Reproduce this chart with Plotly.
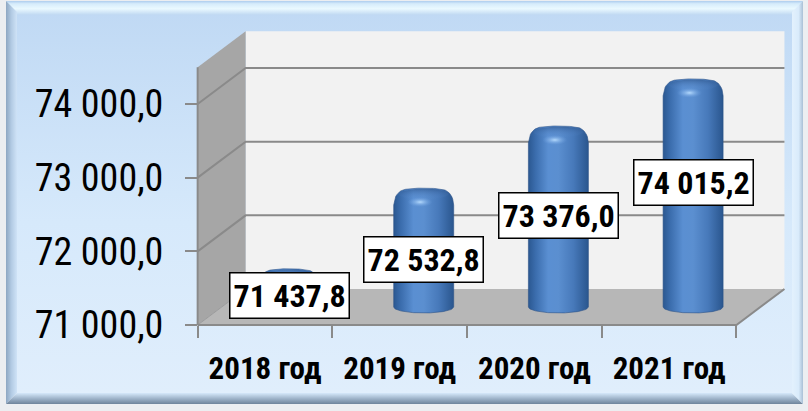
import numpy as np
import plotly.graph_objects as go

# ---- data -------------------------------------------------------------
categories = ["2018 год", "2019 год", "2020 год", "2021 год"]
values = [71437.8, 72532.8, 73376.0, 74015.2]
value_labels = ["71 437,8", "72 532,8", "73 376,0", "74 015,2"]
y_ticks = [71000, 72000, 73000, 74000]
y_tick_labels = ["71 000,0", "72 000,0", "73 000,0", "74 000,0"]

# ---- page / axis geometry ---------------------------------------------
W, H = 808, 411
X_RANGE = [-1.9673, 4.0312]          # category index units
Y_RANGE = [69832.6, 75411.6]         # value units
PX_X = W / (X_RANGE[1] - X_RANGE[0])  # pixels per category unit
PX_Y = H / (Y_RANGE[1] - Y_RANGE[0])  # pixels per value unit
BASE = 71000.0
WALL_TOP = 74500.0
DX = 48 / PX_X                       # depth offset of the 3-D box
DV = 36 / PX_Y

NARROW = "Liberation Sans Narrow, Arial Narrow, Roboto Condensed, Liberation Sans, sans-serif"

fig = go.Figure()


def page_poly(xs, ys, grad_type, stops):
    """Filled polygon in page pixels (y measured from the top)."""
    fig.add_trace(go.Scatter(
        x=list(xs) + [xs[0]], y=[H - v for v in ys] + [H - ys[0]],
        mode="lines", line=dict(width=0), fill="toself",
        fillgradient=dict(type=grad_type, colorscale=stops),
        hoverinfo="skip", xaxis="x", yaxis="y"))


# ---- outer frame with bevel -------------------------------------------
L, T, R, B, BV = 6, 1, 803, 404, 11
page_poly([L + BV, R - BV, R - BV, L + BV], [T + BV, T + BV, B - BV, B - BV], "vertical",
          [[0, "#e0eefc"], [0.45, "#d6e9fb"], [1, "#c0d9f4"]])
page_poly([L, R, R - BV, L + BV], [T, T, T + BV + 3, T + BV + 3], "vertical",
          [[0, "#bfd8f2"], [0.45, "#eaf9ff"], [0.8, "#d6ecfb"], [1, "#aecdee"]])
page_poly([L, L + BV, L + BV, L], [T, T + BV, B - BV, B], "horizontal",
          [[0, "#8ea7c2"], [0.5, "#b3cbe4"], [1, "#cfe3f7"]])
page_poly([L, L + BV, R - BV, R], [B, B - BV, B - BV, B], "vertical",
          [[0, "#6f849b"], [0.5, "#9fb4ca"], [1, "#d5e8fa"]])
page_poly([R, R - BV, R - BV, R], [T, T + BV, B - BV, B], "horizontal",
          [[0, "#e3f1fd"], [0.6, "#d9ebfb"], [1, "#aac0d6"]])


def data_trace(xs, ys, **kw):
    fig.add_trace(go.Scatter(x=xs, y=ys, hoverinfo="skip",
                             xaxis="x2", yaxis="y2", **kw))


# ---- 3-D box: walls, floor and gridlines -------------------------------
x_left, x_right = -0.5, len(categories) - 0.5
data_trace([x_left + DX, x_right + DX, x_right + DX, x_left + DX, x_left + DX],
           [BASE + DV, BASE + DV, WALL_TOP + DV, WALL_TOP + DV, BASE + DV],
           mode="lines", line=dict(width=0), fill="toself", fillcolor="#f2f2f2")
data_trace([x_left, x_left + DX, x_left + DX, x_left, x_left],
           [BASE, BASE + DV, WALL_TOP + DV, WALL_TOP, BASE],
           mode="lines", line=dict(width=0), fill="toself", fillcolor="#a6a6a6")
data_trace([x_left, x_right, x_right + DX, x_left + DX, x_left],
           [BASE, BASE, BASE + DV, BASE + DV, BASE],
           mode="lines", line=dict(width=0), fill="toself", fillcolor="#b7b7b7")

grid_color = "#8a8a8a"
for v in y_ticks[1:]:
    data_trace([x_left, x_left + DX, x_right + DX], [v, v + DV, v + DV],
               mode="lines", line=dict(color=grid_color, width=2))
data_trace([x_left, x_left + DX], [BASE, BASE + DV],
           mode="lines", line=dict(color="#9a9a9a", width=1))
data_trace([x_left, x_left, None, x_left, x_right, x_right + DX],
           [WALL_TOP, BASE, None, BASE, BASE, BASE + DV],
           mode="lines", line=dict(color=grid_color, width=2))

# ---- cylinders ---------------------------------------------------------
RX = 30 / PX_X          # cylinder radius (horizontal)
RY = 6 / PX_Y           # ellipse half-height
ROUND = 11              # rounding of the top edge, pixels
u = np.linspace(-1, 1, 61)
body_scale = [[0, "#2b5891"], [0.12, "#3b6dad"], [0.33, "#5a8fd2"], [0.5, "#5b8fd0"],
              [0.75, "#4779ba"], [1, "#2a568e"]]

for i, v in enumerate(values):
    cx = i + DX / 2
    vb = BASE + DV / 2
    vt = v + DV / 2
    xs = cx + RX * u
    half = np.sqrt(1 - u ** 2)
    d = 30 * (1 - np.abs(u))
    drop = np.where(d < ROUND, ROUND - np.sqrt(np.maximum(ROUND ** 2 - (ROUND - d) ** 2, 0)), 0)
    top = vt + RY * half - drop / PX_Y
    bottom = vb - RY * half
    px = np.concatenate([xs, xs[::-1], xs[:1]])
    py = np.concatenate([top, bottom[::-1], top[:1]])
    data_trace(px, py, mode="lines", line=dict(width=0.6, color="#2b5288"), fill="toself",
               fillgradient=dict(type="horizontal", colorscale=body_scale))
    # shaded top face
    t = np.linspace(0, 2 * np.pi, 60)
    data_trace(cx + 0.82 * RX * np.cos(t), vt + 0.9 * RY * np.sin(t), mode="lines",
               line=dict(width=0), fill="toself",
               fillgradient=dict(type="vertical",
                                 colorscale=[[0, "rgba(95,145,212,0)"], [1, "rgba(40,78,130,0.55)"]]))
    # specular highlight on the front rim
    data_trace(cx - 0.12 * RX + 0.42 * RX * np.cos(t), vt - 8 / PX_Y + 5 / PX_Y * np.sin(t),
               mode="lines", line=dict(width=0), fill="toself",
               fillgradient=dict(type="radial",
                                 colorscale=[[0, "rgba(185,222,255,0.95)"], [1, "rgba(110,160,225,0)"]]))

# ---- value labels ------------------------------------------------------
for i, (v, txt) in enumerate(zip(values, value_labels)):
    h = v - BASE
    y_lab = BASE + max(0.7 * h - 180, 400)
    fig.add_annotation(x=i + DX / 2, y=y_lab, xref="x2", yref="y2", text=txt,
                       showarrow=False, bgcolor="white", bordercolor="black",
                       borderwidth=1.5, borderpad=3,
                       font=dict(family=NARROW, size=32, color="black", weight="bold"))

# anchor trace for the category-label axis
fig.add_trace(go.Scatter(x=[0], y=[BASE], mode="markers", marker=dict(opacity=0),
                         hoverinfo="skip", xaxis="x3", yaxis="y2"))

axis_pos_y = 1 - 325 / H
fig.update_layout(
    width=W, height=H, margin=dict(l=0, r=0, t=0, b=0),
    paper_bgcolor="#eceef1", plot_bgcolor="rgba(0,0,0,0)", showlegend=False,
    xaxis=dict(range=[0, W], domain=[0, 1], visible=False, fixedrange=True),
    yaxis=dict(range=[0, H], domain=[0, 1], visible=False, fixedrange=True),
    xaxis2=dict(range=X_RANGE, overlaying="x", anchor="free", position=axis_pos_y,
                showgrid=False, zeroline=False, showline=False,
                tickvals=[k - 0.5 for k in range(len(categories) + 1)],
                ticks="outside", ticklen=12, tickwidth=2, tickcolor=grid_color,
                showticklabels=False),
    xaxis3=dict(range=X_RANGE, overlaying="x", anchor="free", position=axis_pos_y,
                showgrid=False, zeroline=False, showline=False,
                tickvals=list(range(len(categories))), ticktext=categories, ticks="",
                ticklabelstandoff=22,
                tickfont=dict(family=NARROW, size=31, color="black", weight="bold")),
    yaxis2=dict(range=Y_RANGE, overlaying="y", anchor="free", position=197 / W,
                showgrid=False, zeroline=False, showline=False,
                tickvals=y_ticks, ticktext=y_tick_labels,
                ticks="outside", ticklen=12, tickwidth=2, tickcolor=grid_color,
                ticklabelstandoff=14,
                tickfont=dict(family=NARROW, size=38, color="black")),
)

fig.write_html("out.html")
